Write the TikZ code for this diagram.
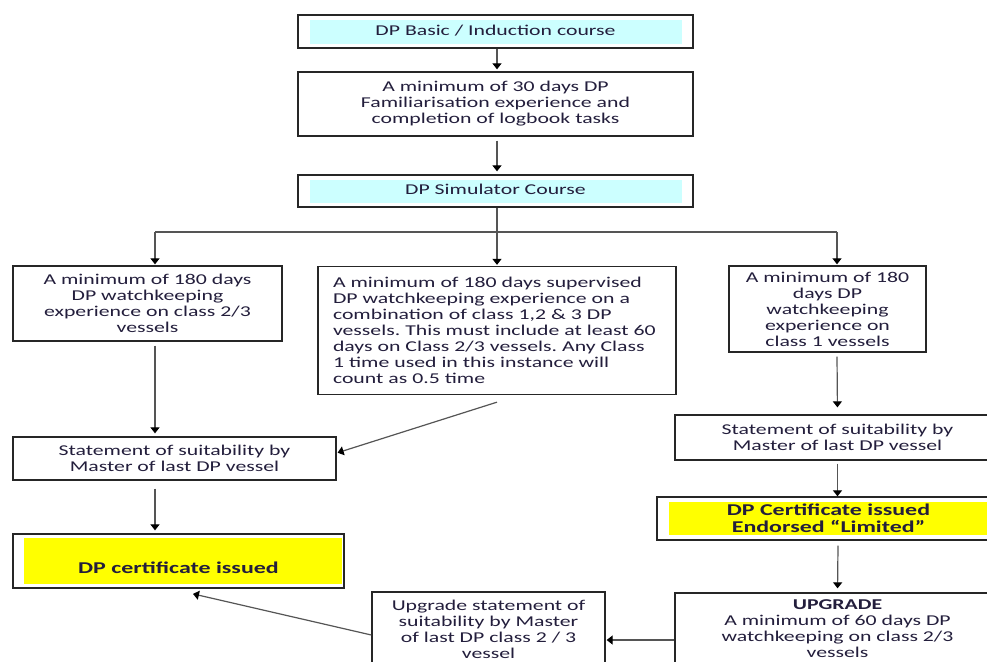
\documentclass[tikz,border=0pt]{standalone}
\usepackage{fontspec}
\setmainfont[FakeStretch=1.45]{Carlito}
\usetikzlibrary{arrows.meta}
\frenchspacing
\definecolor{txt}{RGB}{35,30,60}
\definecolor{cyanfill}{RGB}{204,255,255}
\definecolor{yel}{RGB}{255,255,0}
\definecolor{arr}{RGB}{85,85,85}
\tikzset{
  box/.style={draw=black!85, line width=1.3pt, inner sep=0pt, text=txt,
    font=\fontsize{15}{16}\selectfont, align=center},
  boldtext/.style={font=\fontsize{16.5}{17}\selectfont\bfseries},
  flow/.style={draw=arr, line width=1.2pt, -{Triangle[width=9pt,length=6pt,color=black]}},
  plain/.style={draw=arr, line width=1.2pt},
  cyanbox/.style={path picture={\fill[cyanfill]
      ([xshift=12pt,yshift=-5pt]path picture bounding box.north west) rectangle
      ([xshift=-11pt,yshift=4pt]path picture bounding box.south east);}},
}
\begin{document}
\begin{tikzpicture}[x=1pt,y=-1pt]
\useasboundingbox (0,0) rectangle (987,661);
\clip (0,0) rectangle (987,661);
\fill[white] (0,0) rectangle (987,661);

% top chain
\node[box, cyanbox, minimum width=395pt, minimum height=33pt] (b1) at (495.5,31.5) {\raisebox{3pt}{DP Basic / Induction course}};
\node[box, minimum width=395pt, minimum height=64pt] (b2) at (495.5,104)
  {A minimum of 30 days DP\\Familiarisation experience and\\completion of logbook tasks};
\node[box, cyanbox, minimum width=395pt, minimum height=32pt] (b3) at (495.5,191) {\raisebox{3pt}{DP Simulator Course}};

% second row
\node[box, minimum width=269pt, minimum height=75pt] (L1) at (147.5,303.5)
  {A minimum of 180 days\\DP watchkeeping\\experience on class 2/3\\vessels};
\node[box, minimum width=358pt, minimum height=128pt, text width=328pt, align=left] (M1) at (497,330.5)
  {A minimum of 180 days supervised\\DP watchkeeping experience on a\\combination of class 1,2 \& 3 DP\\vessels. This must include at least 60\\days on Class 2/3 vessels. Any Class\\1 time used in this instance will\\count as 0.5 time};
\node[box, minimum width=197pt, minimum height=86pt] (R1) at (827.5,309)
  {A minimum of 180\\days DP\\watchkeeping\\experience on\\class 1 vessels};

% left column
\node[box, minimum width=323pt, minimum height=43pt] (L2) at (174.5,458.5)
  {Statement of suitability by\\Master of last DP vessel};
\node[box, boldtext, minimum width=331pt, minimum height=54pt, align=none,
  text height=24pt, text depth=0pt,
  path picture={\fill[yel]
      ([xshift=11pt,yshift=-4pt]path picture bounding box.north west) rectangle
      ([xshift=-2pt,yshift=4pt]path picture bounding box.south east);}] (L3) at (178.5,561)
  {DP certificate issued};

% right column
\node[box, minimum width=325pt, minimum height=45pt] (R2) at (837.5,437.5)
  {Statement of suitability by\\Master of last DP vessel};
\node[box, boldtext, minimum width=343pt, minimum height=43pt,
  path picture={\fill[yel]
      ([xshift=12pt,yshift=-5pt]path picture bounding box.north west) rectangle
      ([xshift=0pt,yshift=5pt]path picture bounding box.south east);}] (R3) at (828.5,518.5)
  {DP Certificate issued\\Endorsed “Limited”};
\node[box, minimum width=325pt, minimum height=72pt] (R4) at (837.5,629)
  {\textbf{UPGRADE}\\A minimum of 60 days DP\\watchkeeping on class 2/3\\vessels};
\node[box, minimum width=233pt, minimum height=75pt] (U) at (488.5,629.5)
  {Upgrade statement of\\suitability by Master\\of last DP class 2 / 3\\vessel};

% connectors
\draw[flow, shorten >=2pt] ([xshift=1.5pt]b1.south) -- ([xshift=1.5pt]b2.north);
\draw[flow, shorten >=3pt] ([xshift=1.5pt,yshift=-4pt]b2.south) -- ([xshift=1.5pt]b3.north);

\coordinate (split) at (497,232);
\coordinate (sL) at (155,232);
\coordinate (sR) at (837,232);
\draw[plain] ([xshift=1.5pt]b3.south) -- (split);
\draw[plain] (sL) -- (sR);
\draw[flow, shorten >=1pt] (sL) -- (sL |- L1.north);
\draw[flow, shorten >=1pt] (split) -- (split |- M1.north);
\draw[flow, shorten >=1pt] (sR) -- (sR |- R1.north);

\draw[flow, shorten >=3pt] ([xshift=7.5pt,yshift=-4pt]L1.south) -- ([xshift=-19.5pt]L2.north);
\draw[flow, shorten >=3pt] ([xshift=-19.5pt,yshift=-8pt]L2.south) -- ([xshift=-23.5pt]L3.north);
\draw[flow, shorten >=1pt] ([yshift=-7pt]M1.south) -- ([yshift=5.5pt]L2.east);

\draw[flow, shorten >=7pt] ([xshift=9.5pt,yshift=-4pt]R1.south) -- (R2.north);
\draw[flow] ([yshift=-3pt]R2.south) -- ([xshift=9pt]R3.north);
\draw[flow, shorten >=5pt] ([xshift=9.5pt,yshift=-5pt]R3.south) -- ([yshift=-1pt]R4.north);
\draw[flow, shorten >=1pt] ([yshift=-11pt]R4.west) -- ([yshift=-10.5pt]U.east);
\draw[flow, shorten >=1pt] ([yshift=-5.5pt]U.west) -- ([xshift=13.5pt,yshift=-5pt]L3.south);
\end{tikzpicture}
\end{document}
